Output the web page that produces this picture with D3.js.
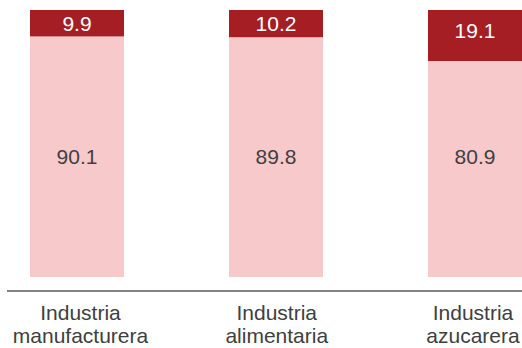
<!DOCTYPE html>
<html>
<head>
<meta charset="utf-8">
<script src="https://cdn.jsdelivr.net/npm/d3@7"></script>
<style>
  html, body { margin: 0; padding: 0; background: #fff; }
  svg { display: block; }
  text { font-family: "Liberation Sans", Arial, sans-serif; }
</style>
</head>
<body>
<svg id="chart" width="522" height="348"></svg>
<script>
const categoryLines = [["Industria", "manufacturera"], ["Industria", "alimentaria"], ["Industria", "azucarera"]];
const categoryKeys = ["manufacturera", "alimentaria", "azucarera"];
const bottomValues = [90.1, 89.8, 80.9];
const topValues = [9.9, 10.2, 19.1];

const svg = d3.select("#chart");

const x = d3.scaleBand()
  .domain(categoryKeys)
  .range([30, 522])
  .paddingInner(0.5276)
  .paddingOuter(0);

// category labels sit on slightly tighter slots than the bars
const xLabel = d3.scalePoint()
  .domain(categoryKeys)
  .range([80.5, 473]);

const y = d3.scaleLinear().domain([0, 100]).range([277, 10]);

const data = categoryKeys.map((k, i) => ({ key: k, bottom: bottomValues[i], top: topValues[i] }));
const stack = d3.stack().keys(["bottom", "top"])(data);
const colors = { bottom: "#F8C9CB", top: "#A51E24" };
const textColors = { bottom: "#404040", top: "#FFFFFF" };
const maxBottom = d3.max(bottomValues);

function labelY(layerKey, d) {
  if (layerKey === "bottom") return y(maxBottom / 2);
  const h = y(d[0]) - y(d[1]);
  return y(d[1]) + Math.min(h / 2, 20.5);
}

stack.forEach(layer => {
  const g = svg.append("g");
  g.selectAll("rect").data(layer).join("rect")
    .attr("x", d => x(d.data.key))
    .attr("width", x.bandwidth())
    .attr("y", d => y(d[1]))
    .attr("height", d => y(d[0]) - y(d[1]))
    .attr("fill", colors[layer.key]);
  g.selectAll("text").data(layer).join("text")
    .attr("x", d => x(d.data.key) + x.bandwidth() / 2)
    .attr("y", d => labelY(layer.key, d))
    .attr("dy", "0.36em")
    .attr("text-anchor", "middle")
    .attr("font-size", 21)
    .attr("fill", textColors[layer.key])
    .text(d => d.data[layer.key].toFixed(1));
});

// axis baseline
const axis = d3.axisBottom(x).tickSize(0).tickFormat("");
const axisG = svg.append("g").attr("transform", "translate(0,291)").call(axis);
axisG.select(".domain").remove();
axisG.append("line")
  .attr("x1", 7).attr("x2", 522)
  .attr("stroke", "#595959").attr("stroke-width", 1.3);

const labels = svg.append("g");
categoryKeys.forEach((k, i) => {
  const cx = xLabel(k);
  const t = labels.append("text")
    .attr("x", cx)
    .attr("y", 320)
    .attr("text-anchor", "middle")
    .attr("font-size", 21)
    .attr("fill", "#404040");
  categoryLines[i].forEach((line, j) => {
    t.append("tspan")
      .attr("x", cx)
      .attr("dy", j === 0 ? 0 : 23)
      .text(line);
  });
});
</script>
</body>
</html>
